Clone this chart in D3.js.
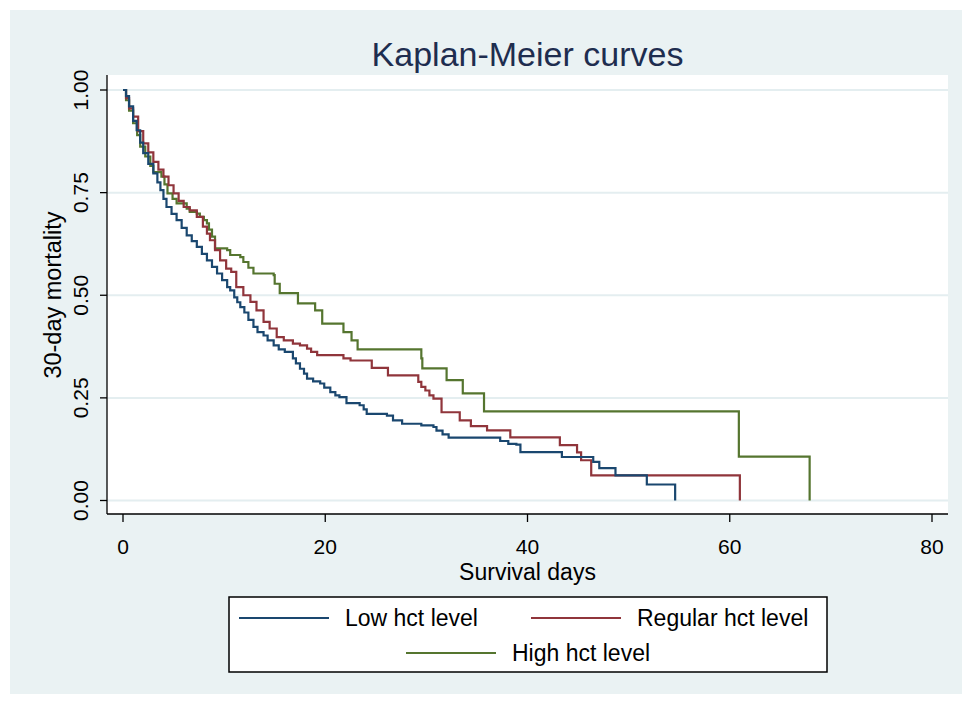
<!DOCTYPE html>
<html>
<head>
<meta charset="utf-8">
<script src="https://cdn.jsdelivr.net/npm/d3@7"></script>
<style>
  body { margin: 0; background: #fff; }
  svg text { font-family: "Liberation Sans", Arial, sans-serif; }
</style>
</head>
<body>
<svg id="chart" width="971" height="702"></svg>
<script>
// km estimates (days, survival)
var lowDays = [0, 0.3, 0.6, 1.0, 1.35, 1.7, 2.0, 2.5, 3.0, 3.4, 3.7, 4.0, 4.3, 4.8, 5.3, 5.8, 6.3, 6.8, 7.3, 7.8,
  8.3, 8.8, 9.3, 9.8, 10.3, 10.6, 11.0, 11.3, 11.6, 12.0, 12.4, 12.9, 13.3, 13.9, 14.3, 14.9, 15.4, 16.0, 16.8, 17.1,
  17.5, 17.9, 18.2, 18.8, 19.5, 19.9, 20.5, 21.0, 21.4, 22.1, 23.4, 23.8, 24.1, 26.1, 26.7, 27.6, 29.5, 30.7, 31.0,
  31.6, 32.2, 37.3, 38.1, 38.9, 39.3, 43.4, 46.5, 47.1, 48.7, 51.8, 54.6];
var lowSurv = [1, 0.985, 0.96, 0.925, 0.902, 0.872, 0.846, 0.82, 0.797, 0.775, 0.756, 0.735, 0.715, 0.698, 0.683, 0.664,
  0.646, 0.632, 0.618, 0.601, 0.585, 0.569, 0.553, 0.537, 0.52, 0.512, 0.495, 0.483, 0.471, 0.458, 0.44, 0.423, 0.41,
  0.402, 0.39, 0.378, 0.368, 0.362, 0.346, 0.334, 0.321, 0.309, 0.297, 0.29, 0.285, 0.275, 0.264, 0.256, 0.252, 0.237,
  0.232, 0.222, 0.211, 0.207, 0.195, 0.187, 0.183, 0.179, 0.17, 0.161, 0.153, 0.145, 0.138, 0.136, 0.118, 0.106,
  0.094, 0.079, 0.061, 0.039, 0];

var regDays = [0, 0.3, 0.6, 1.0, 1.5, 2.0, 2.5, 3.0, 3.5, 4.0, 4.5, 5.0, 5.5, 6.0, 6.6, 7.3, 7.9, 8.3, 8.6, 9.1, 9.6,
  10.2, 10.7, 11.2, 11.9, 12.6, 13.2, 13.9, 14.5, 15.2, 15.9, 16.8, 17.5, 18.2, 18.6, 19.2, 21.8, 22.5, 24.6, 26.2,
  29.2, 29.5, 29.9, 30.3, 30.7, 31.5, 33.3, 34.4, 36.0, 38.3, 43.2, 44.9, 45.3, 46.3, 61.0];
var regSurv = [1, 0.98, 0.955, 0.935, 0.9, 0.87, 0.848, 0.825, 0.806, 0.789, 0.768, 0.748, 0.73, 0.715, 0.707, 0.691,
  0.667, 0.65, 0.634, 0.61, 0.585, 0.565, 0.557, 0.52, 0.5, 0.484, 0.463, 0.435, 0.419, 0.398, 0.39, 0.382, 0.378,
  0.37, 0.362, 0.354, 0.346, 0.341, 0.323, 0.305, 0.289, 0.277, 0.268, 0.256, 0.248, 0.215, 0.195, 0.181, 0.171,
  0.154, 0.135, 0.117, 0.098, 0.061, 0];

var highDays = [0, 0.3, 0.6, 1.0, 1.4, 1.7, 2.2, 2.7, 3.0, 3.8, 4.1, 4.4, 4.9, 5.3, 6.3, 6.6, 7.3, 7.6, 8.0, 8.3, 8.5,
  8.8, 9.1, 10.3, 10.6, 11.6, 11.9, 12.4, 12.9, 14.9, 15.0, 15.5, 17.3, 19.0, 19.7, 21.8, 22.6, 23.2, 29.5, 29.6, 32.0,
  33.6, 35.7, 60.9, 67.9];
var highSurv = [1, 0.975, 0.95, 0.919, 0.89, 0.862, 0.838, 0.815, 0.8, 0.789, 0.77, 0.748, 0.735, 0.724, 0.711, 0.703,
  0.699, 0.691, 0.683, 0.675, 0.66, 0.643, 0.614, 0.61, 0.598, 0.593, 0.581, 0.567, 0.553, 0.549, 0.528, 0.505, 0.48,
  0.463, 0.431, 0.41, 0.39, 0.368, 0.346, 0.322, 0.293, 0.261, 0.217, 0.107, 0];

var seriesNames = ["Low hct level", "Regular hct level", "High hct level"];
var seriesColors = ["#1a476f", "#90353b", "#55752f"];
var xTicks = [0, 20, 40, 60, 80];
var yTicks = [0, 0.25, 0.5, 0.75, 1];

var svg = d3.select("#chart");

// stata style background
svg.append("rect").attr("x", 10).attr("y", 10).attr("width", 952).attr("height", 684).attr("fill", "#eaf2f3");

var plot = {left: 107, right: 948, top: 75, bottom: 514};
svg.append("rect")
  .attr("x", plot.left).attr("y", plot.top)
  .attr("width", plot.right - plot.left).attr("height", plot.bottom - plot.top)
  .attr("fill", "#fff");

var x = d3.scaleLinear().domain([0, 80]).range([123, 932]);
var y = d3.scaleLinear().domain([0, 1]).range([500.5, 90]);

// grid lines
svg.append("g").selectAll("line").data(yTicks).enter().append("line")
  .attr("x1", plot.left).attr("x2", plot.right)
  .attr("y1", function(d) { return y(d); }).attr("y2", function(d) { return y(d); })
  .attr("stroke", "#e4eef0").attr("stroke-width", 2);

// curves
function pairs(days, surv) {
  var out = days.map(function(d, i) { return [d, surv[i]]; });
  return out;
}
var allSeries = [pairs(lowDays, lowSurv), pairs(regDays, regSurv), pairs(highDays, highSurv)];
var line = d3.line()
  .x(function(d) { return x(d[0]); })
  .y(function(d) { return y(d[1]); })
  .curve(d3.curveStepAfter);

// draw high first so low stays on top like the original
[2, 1, 0].forEach(function(k) {
  svg.append("path")
    .datum(allSeries[k])
    .attr("d", line)
    .attr("fill", "none")
    .attr("stroke", seriesColors[k])
    .attr("stroke-width", 2.2);
});

// axes
var yAxis = svg.append("g");
yAxis.append("line").attr("x1", plot.left).attr("x2", plot.left)
  .attr("y1", plot.top).attr("y2", plot.bottom).attr("stroke", "#000").attr("stroke-width", 1.3);
yAxis.selectAll(".tk").data(yTicks).enter().append("line")
  .attr("x1", plot.left - 7).attr("x2", plot.left)
  .attr("y1", function(d) { return y(d); }).attr("y2", function(d) { return y(d); })
  .attr("stroke", "#000").attr("stroke-width", 1.3);
yAxis.selectAll("text").data(yTicks).enter().append("text")
  .attr("transform", function(d) { return "translate(88," + y(d) + ") rotate(-90)"; })
  .attr("text-anchor", "middle")
  .attr("font-size", 21)
  .attr("fill", "#000")
  .text(function(d) { return d3.format(".2f")(d); });

var xAxis = svg.append("g");
xAxis.append("line").attr("x1", plot.left).attr("x2", plot.right)
  .attr("y1", plot.bottom).attr("y2", plot.bottom).attr("stroke", "#000").attr("stroke-width", 1.3);
xAxis.selectAll(".tk").data(xTicks).enter().append("line")
  .attr("x1", function(d) { return x(d); }).attr("x2", function(d) { return x(d); })
  .attr("y1", plot.bottom).attr("y2", plot.bottom + 8)
  .attr("stroke", "#000").attr("stroke-width", 1.3);
xAxis.selectAll("text").data(xTicks).enter().append("text")
  .attr("x", function(d) { return x(d); }).attr("y", 554)
  .attr("text-anchor", "middle")
  .attr("font-size", 21)
  .text(function(d) { return d; });

// titles
svg.append("text").attr("x", 527.5).attr("y", 66).attr("text-anchor", "middle")
  .attr("font-size", 34).attr("fill", "#1e2d4f").text("Kaplan-Meier curves");
svg.append("text").attr("x", 527.5).attr("y", 580).attr("text-anchor", "middle")
  .attr("font-size", 23).text("Survival days");
svg.append("text").attr("transform", "translate(61,295) rotate(-90)").attr("text-anchor", "middle")
  .attr("font-size", 23.5).text("30-day mortality");

// legend
var legend = svg.append("g");
legend.append("rect").attr("x", 229).attr("y", 597).attr("width", 598).attr("height", 75)
  .attr("fill", "#fff").attr("stroke", "#000").attr("stroke-width", 1.5);
var legendPos = [{lx: 239, ly: 618}, {lx: 531, ly: 618}, {lx: 406, ly: 653}];
legendPos.forEach(function(p, k) {
  legend.append("line").attr("x1", p.lx).attr("x2", p.lx + 90)
    .attr("y1", p.ly).attr("y2", p.ly)
    .attr("stroke", seriesColors[k]).attr("stroke-width", 2.2);
  legend.append("text").attr("x", p.lx + 106).attr("y", p.ly + 8)
    .attr("font-size", 23).text(seriesNames[k]);
});
</script>
</body>
</html>
